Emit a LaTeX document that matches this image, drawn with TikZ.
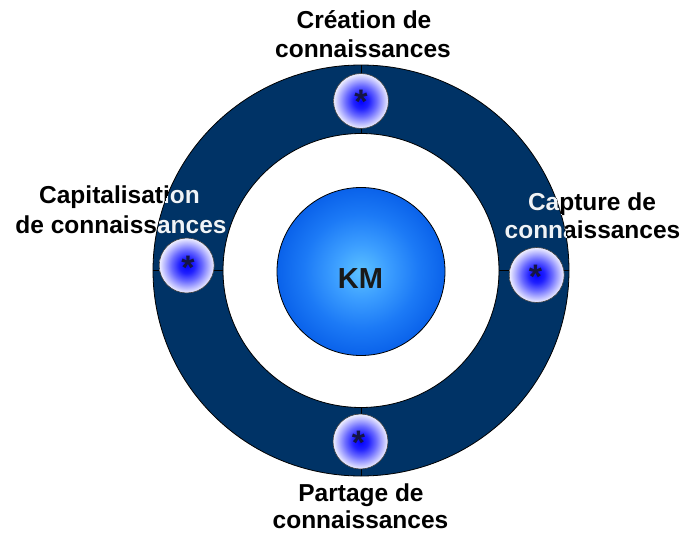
\documentclass[tikz,border=0pt]{standalone}
\usepackage{fontspec}
\setmainfont{Liberation Sans}
\definecolor{ringblue}{HTML}{003366}
\definecolor{startxt}{HTML}{151545}
\definecolor{lighttxt}{HTML}{EEF4FA}
\definecolor{dA}{HTML}{0000FF}
\definecolor{dB}{HTML}{2020FF}
\definecolor{dC}{HTML}{6A6AFF}
\definecolor{dD}{HTML}{B4B4FF}
\definecolor{dE}{HTML}{F0F0FF}
\definecolor{kA}{HTML}{5CC2FF}
\definecolor{kB}{HTML}{3C9EFF}
\definecolor{kC}{HTML}{1C7AF6}
\definecolor{kD}{HTML}{0A62EA}
\pgfdeclareradialshading{dotshade}{\pgfpoint{0bp}{0bp}}{color(0bp)=(dA); color(7bp)=(dB); color(14bp)=(dC); color(20bp)=(dD); color(25bp)=(dE); color(50bp)=(dE)}
\pgfdeclareradialshading{kmshade}{\pgfpoint{0bp}{0bp}}{color(0bp)=(kA); color(8bp)=(kB); color(17bp)=(kC); color(25bp)=(kD); color(50bp)=(kD)}
\tikzset{
 lbl/.style={font=\fontsize{24.5}{28}\selectfont\bfseries, anchor=base, inner sep=0pt},
 dot/.style={circle, minimum size=55pt, inner sep=0pt, draw=black!75, line width=0.6pt, shading=dotshade},
 star/.style={font=\fontsize{34}{36}\selectfont\bfseries, text=startxt, anchor=base, inner sep=0pt},
 spoke/.style={draw=black, line width=0.8pt},
 kmtext/.style={font=\fontsize{29}{30}\selectfont\bfseries, text=black!90, anchor=base, inner sep=0pt},
}
\newcommand\drawlabels[2]{%
 \node[lbl, text=#2] (#1t1) at (364,28.5) {Création de};
 \node[lbl, text=#2] (#1t2) at (363,57) {connaissances};
 \node[lbl, text=#2] (#1r1) at (592,210) {Capture de};
 \node[lbl, text=#2] (#1r2) at (592.5,238) {connaissances};
 \node[lbl, text=#2] (#1l1) at (119.5,203) {Capitalisation};
 \node[lbl, text=#2] (#1l2) at (121,233) {de connaissances};
 \node[lbl, text=#2] (#1b1) at (361,501.5) {Partage de};
 \node[lbl, text=#2] (#1b2) at (360.5,528) {connaissances};
}
\begin{document}
\begin{tikzpicture}[x=1pt,y=-1pt]
\useasboundingbox (0,0) rectangle (683,536);
% ring
\path[fill=ringblue, even odd rule, draw=black, line width=0.8pt]
  (361,270.5) ellipse [x radius=208pt, y radius=205.5pt]
  (361,270.5) ellipse [x radius=138pt, y radius=137pt];
% spoke end points
\coordinate (so1) at (361,65);   \coordinate (si1) at (361,133.5);
\coordinate (so2) at (569,270.5); \coordinate (si2) at (499,270.5);
\coordinate (so3) at (361,476);  \coordinate (si3) at (361,407.5);
\coordinate (so4) at (153,270.5); \coordinate (si4) at (223,270.5);
\draw[spoke] (si1) -- (so1);
\draw[spoke] (si2) -- (so2);
\draw[spoke] (si3) -- (so3);
\draw[spoke] (si4) -- (so4);
% small circles
\node[dot] (dtop) at (361,101) {};
\node[dot] (dright) at (536.7,275) {};
\node[dot] (dbottom) at (360.5,441.5) {};
\node[dot] (dleft) at (186.7,265.5) {};
\node[star] (stop) at (361,113.7) {*};
\node[star] (sright) at (535.5,288.2) {*};
\node[star] (sbottom) at (358.5,454.2) {*};
\node[star] (sleft) at (188,279.2) {*};
% KM
\node[circle, minimum size=168pt, inner sep=0pt, draw=black, line width=0.8pt, shading=kmshade] (km) at (361,271.5) {};
\node[kmtext] (kmlabel) at (360.5,288.3) {KM};
% labels
\drawlabels{k}{black}
\begin{scope}[even odd rule]
\clip
  (361,270.5) ellipse [x radius=208pt, y radius=205.5pt]
  (361,270.5) ellipse [x radius=138pt, y radius=137pt];
\drawlabels{w}{lighttxt}
\end{scope}
\end{tikzpicture}
\end{document}
